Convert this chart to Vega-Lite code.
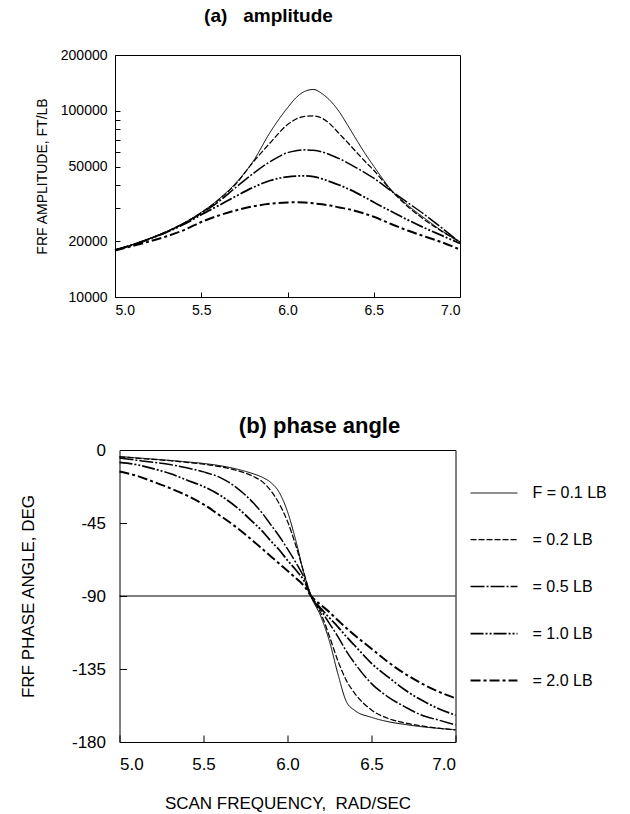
{
  "$schema": "https://vega.github.io/schema/vega-lite/v6.json",
  "padding": {"left": 18, "top": 6, "right": 5, "bottom": 5},
  "background": "white",
  "config": {
    "font": "Liberation Sans",
    "view": {"stroke": "#000", "strokeWidth": 1},
    "axis": {"domain": false, "grid": false, "tickColor": "#000", "tickSize": -5, "tickWidth": 1, "labelColor": "#000", "titleColor": "#000", "titleFontWeight": "normal", "labelFont": "Liberation Sans", "titleFont": "Liberation Sans"},
    "title": {"fontWeight": "bold", "color": "#000", "font": "Liberation Sans"},
    "legend": {"labelFont": "Liberation Sans", "labelColor": "#000"}
  },
  "spacing": 153,
  "bounds": "flush",
  "center": true,
  "datasets": {
    "amp": [
      {"x": 5.0, "F": "0.1", "amp": 17900}, {"x": 5.1, "F": "0.1", "amp": 19100}, {"x": 5.2, "F": "0.1", "amp": 20600}, {"x": 5.3, "F": "0.1", "amp": 22500}, {"x": 5.4, "F": "0.1", "amp": 25000}, {"x": 5.5, "F": "0.1", "amp": 28500}, {"x": 5.6, "F": "0.1", "amp": 33500}, {"x": 5.7, "F": "0.1", "amp": 41000}, {"x": 5.8, "F": "0.1", "amp": 53500}, {"x": 5.9, "F": "0.1", "amp": 77000}, {"x": 6.0, "F": "0.1", "amp": 104000}, {"x": 6.05, "F": "0.1", "amp": 118000}, {"x": 6.1, "F": "0.1", "amp": 127500}, {"x": 6.15, "F": "0.1", "amp": 130500}, {"x": 6.2, "F": "0.1", "amp": 124000}, {"x": 6.25, "F": "0.1", "amp": 113000}, {"x": 6.3, "F": "0.1", "amp": 99000}, {"x": 6.35, "F": "0.1", "amp": 83500}, {"x": 6.4, "F": "0.1", "amp": 70000}, {"x": 6.45, "F": "0.1", "amp": 59000}, {"x": 6.5, "F": "0.1", "amp": 50500}, {"x": 6.6, "F": "0.1", "amp": 37800}, {"x": 6.7, "F": "0.1", "amp": 31000}, {"x": 6.8, "F": "0.1", "amp": 26300}, {"x": 6.9, "F": "0.1", "amp": 22500}, {"x": 7.0, "F": "0.1", "amp": 19800},
      {"x": 5.0, "F": "0.2", "amp": 17900}, {"x": 5.1, "F": "0.2", "amp": 19100}, {"x": 5.2, "F": "0.2", "amp": 20600}, {"x": 5.3, "F": "0.2", "amp": 22500}, {"x": 5.4, "F": "0.2", "amp": 25000}, {"x": 5.5, "F": "0.2", "amp": 28400}, {"x": 5.6, "F": "0.2", "amp": 33200}, {"x": 5.7, "F": "0.2", "amp": 40500}, {"x": 5.8, "F": "0.2", "amp": 53000}, {"x": 5.9, "F": "0.2", "amp": 67500}, {"x": 6.0, "F": "0.2", "amp": 84500}, {"x": 6.05, "F": "0.2", "amp": 90500}, {"x": 6.1, "F": "0.2", "amp": 93500}, {"x": 6.15, "F": "0.2", "amp": 94000}, {"x": 6.2, "F": "0.2", "amp": 91500}, {"x": 6.25, "F": "0.2", "amp": 84500}, {"x": 6.3, "F": "0.2", "amp": 75500}, {"x": 6.35, "F": "0.2", "amp": 67500}, {"x": 6.4, "F": "0.2", "amp": 60000}, {"x": 6.45, "F": "0.2", "amp": 53500}, {"x": 6.5, "F": "0.2", "amp": 48000}, {"x": 6.6, "F": "0.2", "amp": 37500}, {"x": 6.7, "F": "0.2", "amp": 30500}, {"x": 6.8, "F": "0.2", "amp": 25800}, {"x": 6.9, "F": "0.2", "amp": 22400}, {"x": 7.0, "F": "0.2", "amp": 19800},
      {"x": 5.0, "F": "0.5", "amp": 17900}, {"x": 5.1, "F": "0.5", "amp": 19100}, {"x": 5.2, "F": "0.5", "amp": 20600}, {"x": 5.3, "F": "0.5", "amp": 22400}, {"x": 5.4, "F": "0.5", "amp": 24900}, {"x": 5.5, "F": "0.5", "amp": 28200}, {"x": 5.6, "F": "0.5", "amp": 32500}, {"x": 5.7, "F": "0.5", "amp": 38800}, {"x": 5.8, "F": "0.5", "amp": 46000}, {"x": 5.9, "F": "0.5", "amp": 53500}, {"x": 6.0, "F": "0.5", "amp": 59700}, {"x": 6.05, "F": "0.5", "amp": 61200}, {"x": 6.1, "F": "0.5", "amp": 61800}, {"x": 6.15, "F": "0.5", "amp": 61500}, {"x": 6.2, "F": "0.5", "amp": 60300}, {"x": 6.25, "F": "0.5", "amp": 58000}, {"x": 6.3, "F": "0.5", "amp": 55500}, {"x": 6.35, "F": "0.5", "amp": 52500}, {"x": 6.4, "F": "0.5", "amp": 49500}, {"x": 6.45, "F": "0.5", "amp": 46500}, {"x": 6.5, "F": "0.5", "amp": 43500}, {"x": 6.6, "F": "0.5", "amp": 37200}, {"x": 6.7, "F": "0.5", "amp": 32000}, {"x": 6.8, "F": "0.5", "amp": 27500}, {"x": 6.9, "F": "0.5", "amp": 23300}, {"x": 7.0, "F": "0.5", "amp": 19600},
      {"x": 5.0, "F": "1.0", "amp": 17900}, {"x": 5.1, "F": "1.0", "amp": 19000}, {"x": 5.2, "F": "1.0", "amp": 20500}, {"x": 5.3, "F": "1.0", "amp": 22300}, {"x": 5.4, "F": "1.0", "amp": 24600}, {"x": 5.5, "F": "1.0", "amp": 27700}, {"x": 5.6, "F": "1.0", "amp": 31000}, {"x": 5.7, "F": "1.0", "amp": 34800}, {"x": 5.8, "F": "1.0", "amp": 38800}, {"x": 5.9, "F": "1.0", "amp": 42300}, {"x": 6.0, "F": "1.0", "amp": 44300}, {"x": 6.05, "F": "1.0", "amp": 44700}, {"x": 6.1, "F": "1.0", "amp": 44800}, {"x": 6.15, "F": "1.0", "amp": 44400}, {"x": 6.2, "F": "1.0", "amp": 43200}, {"x": 6.25, "F": "1.0", "amp": 41600}, {"x": 6.3, "F": "1.0", "amp": 40000}, {"x": 6.35, "F": "1.0", "amp": 38200}, {"x": 6.4, "F": "1.0", "amp": 36300}, {"x": 6.45, "F": "1.0", "amp": 34300}, {"x": 6.5, "F": "1.0", "amp": 32300}, {"x": 6.6, "F": "1.0", "amp": 28900}, {"x": 6.7, "F": "1.0", "amp": 25900}, {"x": 6.8, "F": "1.0", "amp": 23400}, {"x": 6.9, "F": "1.0", "amp": 21300}, {"x": 7.0, "F": "1.0", "amp": 19400},
      {"x": 5.0, "F": "2.0", "amp": 17800}, {"x": 5.1, "F": "2.0", "amp": 18800}, {"x": 5.2, "F": "2.0", "amp": 19900}, {"x": 5.3, "F": "2.0", "amp": 21200}, {"x": 5.4, "F": "2.0", "amp": 22900}, {"x": 5.5, "F": "2.0", "amp": 25300}, {"x": 5.6, "F": "2.0", "amp": 27400}, {"x": 5.7, "F": "2.0", "amp": 29200}, {"x": 5.8, "F": "2.0", "amp": 30700}, {"x": 5.9, "F": "2.0", "amp": 31700}, {"x": 6.0, "F": "2.0", "amp": 32200}, {"x": 6.05, "F": "2.0", "amp": 32300}, {"x": 6.1, "F": "2.0", "amp": 32200}, {"x": 6.15, "F": "2.0", "amp": 31900}, {"x": 6.2, "F": "2.0", "amp": 31500}, {"x": 6.25, "F": "2.0", "amp": 31000}, {"x": 6.3, "F": "2.0", "amp": 30300}, {"x": 6.35, "F": "2.0", "amp": 29700}, {"x": 6.4, "F": "2.0", "amp": 28900}, {"x": 6.45, "F": "2.0", "amp": 28000}, {"x": 6.5, "F": "2.0", "amp": 27000}, {"x": 6.6, "F": "2.0", "amp": 24700}, {"x": 6.7, "F": "2.0", "amp": 22700}, {"x": 6.8, "F": "2.0", "amp": 21100}, {"x": 6.9, "F": "2.0", "amp": 19600}, {"x": 7.0, "F": "2.0", "amp": 18000}
    ],
    "phase": [
      {"x": 5.0, "F": "0.1", "phase": -4.0}, {"x": 5.1, "F": "0.1", "phase": -4.8}, {"x": 5.2, "F": "0.1", "phase": -5.6}, {"x": 5.3, "F": "0.1", "phase": -6.4}, {"x": 5.4, "F": "0.1", "phase": -7.3}, {"x": 5.5, "F": "0.1", "phase": -8.3}, {"x": 5.6, "F": "0.1", "phase": -9.7}, {"x": 5.7, "F": "0.1", "phase": -11.8}, {"x": 5.8, "F": "0.1", "phase": -14.8}, {"x": 5.85, "F": "0.1", "phase": -16.8}, {"x": 5.9, "F": "0.1", "phase": -20.0}, {"x": 5.95, "F": "0.1", "phase": -26.0}, {"x": 6.0, "F": "0.1", "phase": -38.0}, {"x": 6.05, "F": "0.1", "phase": -56.0}, {"x": 6.1, "F": "0.1", "phase": -77.0}, {"x": 6.14, "F": "0.1", "phase": -90.0}, {"x": 6.2, "F": "0.1", "phase": -103.0}, {"x": 6.25, "F": "0.1", "phase": -118.0}, {"x": 6.3, "F": "0.1", "phase": -138.0}, {"x": 6.35, "F": "0.1", "phase": -155.0}, {"x": 6.4, "F": "0.1", "phase": -160.5}, {"x": 6.5, "F": "0.1", "phase": -164.8}, {"x": 6.6, "F": "0.1", "phase": -167.5}, {"x": 6.7, "F": "0.1", "phase": -169.2}, {"x": 6.8, "F": "0.1", "phase": -170.6}, {"x": 6.9, "F": "0.1", "phase": -171.6}, {"x": 7.0, "F": "0.1", "phase": -172.4},
      {"x": 5.0, "F": "0.2", "phase": -4.2}, {"x": 5.1, "F": "0.2", "phase": -5.0}, {"x": 5.2, "F": "0.2", "phase": -5.8}, {"x": 5.3, "F": "0.2", "phase": -6.6}, {"x": 5.4, "F": "0.2", "phase": -7.6}, {"x": 5.5, "F": "0.2", "phase": -8.7}, {"x": 5.6, "F": "0.2", "phase": -10.3}, {"x": 5.7, "F": "0.2", "phase": -12.6}, {"x": 5.8, "F": "0.2", "phase": -16.5}, {"x": 5.85, "F": "0.2", "phase": -19.5}, {"x": 5.9, "F": "0.2", "phase": -25.0}, {"x": 5.95, "F": "0.2", "phase": -33.0}, {"x": 6.0, "F": "0.2", "phase": -44.0}, {"x": 6.05, "F": "0.2", "phase": -59.0}, {"x": 6.1, "F": "0.2", "phase": -76.5}, {"x": 6.14, "F": "0.2", "phase": -90.0}, {"x": 6.2, "F": "0.2", "phase": -101.0}, {"x": 6.25, "F": "0.2", "phase": -115.0}, {"x": 6.3, "F": "0.2", "phase": -130.0}, {"x": 6.35, "F": "0.2", "phase": -142.0}, {"x": 6.4, "F": "0.2", "phase": -150.0}, {"x": 6.5, "F": "0.2", "phase": -160.3}, {"x": 6.6, "F": "0.2", "phase": -165.5}, {"x": 6.7, "F": "0.2", "phase": -168.3}, {"x": 6.8, "F": "0.2", "phase": -170.1}, {"x": 6.9, "F": "0.2", "phase": -171.5}, {"x": 7.0, "F": "0.2", "phase": -172.6},
      {"x": 5.0, "F": "0.5", "phase": -5.0}, {"x": 5.1, "F": "0.5", "phase": -6.3}, {"x": 5.2, "F": "0.5", "phase": -7.6}, {"x": 5.3, "F": "0.5", "phase": -9.0}, {"x": 5.4, "F": "0.5", "phase": -11.0}, {"x": 5.5, "F": "0.5", "phase": -13.5}, {"x": 5.6, "F": "0.5", "phase": -17.0}, {"x": 5.7, "F": "0.5", "phase": -23.5}, {"x": 5.8, "F": "0.5", "phase": -33.0}, {"x": 5.85, "F": "0.5", "phase": -39.0}, {"x": 5.9, "F": "0.5", "phase": -46.0}, {"x": 5.95, "F": "0.5", "phase": -53.0}, {"x": 6.0, "F": "0.5", "phase": -61.0}, {"x": 6.05, "F": "0.5", "phase": -69.5}, {"x": 6.1, "F": "0.5", "phase": -79.0}, {"x": 6.14, "F": "0.5", "phase": -90.0}, {"x": 6.2, "F": "0.5", "phase": -99.0}, {"x": 6.25, "F": "0.5", "phase": -107.0}, {"x": 6.3, "F": "0.5", "phase": -115.0}, {"x": 6.35, "F": "0.5", "phase": -124.0}, {"x": 6.4, "F": "0.5", "phase": -131.5}, {"x": 6.5, "F": "0.5", "phase": -144.0}, {"x": 6.6, "F": "0.5", "phase": -152.3}, {"x": 6.7, "F": "0.5", "phase": -158.4}, {"x": 6.8, "F": "0.5", "phase": -163.5}, {"x": 6.9, "F": "0.5", "phase": -166.5}, {"x": 7.0, "F": "0.5", "phase": -169.5},
      {"x": 5.0, "F": "1.0", "phase": -7.6}, {"x": 5.1, "F": "1.0", "phase": -9.0}, {"x": 5.2, "F": "1.0", "phase": -11.5}, {"x": 5.3, "F": "1.0", "phase": -14.5}, {"x": 5.4, "F": "1.0", "phase": -18.5}, {"x": 5.5, "F": "1.0", "phase": -22.5}, {"x": 5.6, "F": "1.0", "phase": -28.0}, {"x": 5.7, "F": "1.0", "phase": -35.5}, {"x": 5.8, "F": "1.0", "phase": -45.0}, {"x": 5.85, "F": "1.0", "phase": -50.0}, {"x": 5.9, "F": "1.0", "phase": -56.0}, {"x": 5.95, "F": "1.0", "phase": -61.5}, {"x": 6.0, "F": "1.0", "phase": -68.0}, {"x": 6.05, "F": "1.0", "phase": -74.0}, {"x": 6.1, "F": "1.0", "phase": -81.0}, {"x": 6.14, "F": "1.0", "phase": -90.0}, {"x": 6.2, "F": "1.0", "phase": -97.8}, {"x": 6.25, "F": "1.0", "phase": -103.5}, {"x": 6.3, "F": "1.0", "phase": -109.0}, {"x": 6.35, "F": "1.0", "phase": -115.0}, {"x": 6.4, "F": "1.0", "phase": -120.5}, {"x": 6.5, "F": "1.0", "phase": -131.5}, {"x": 6.6, "F": "1.0", "phase": -140.0}, {"x": 6.7, "F": "1.0", "phase": -148.0}, {"x": 6.8, "F": "1.0", "phase": -154.3}, {"x": 6.9, "F": "1.0", "phase": -159.5}, {"x": 7.0, "F": "1.0", "phase": -163.4},
      {"x": 5.0, "F": "2.0", "phase": -13.2}, {"x": 5.1, "F": "2.0", "phase": -15.8}, {"x": 5.2, "F": "2.0", "phase": -19.5}, {"x": 5.3, "F": "2.0", "phase": -23.5}, {"x": 5.4, "F": "2.0", "phase": -28.0}, {"x": 5.5, "F": "2.0", "phase": -33.5}, {"x": 5.6, "F": "2.0", "phase": -40.5}, {"x": 5.7, "F": "2.0", "phase": -48.0}, {"x": 5.8, "F": "2.0", "phase": -56.5}, {"x": 5.85, "F": "2.0", "phase": -61.0}, {"x": 5.9, "F": "2.0", "phase": -65.5}, {"x": 5.95, "F": "2.0", "phase": -70.0}, {"x": 6.0, "F": "2.0", "phase": -74.5}, {"x": 6.05, "F": "2.0", "phase": -79.0}, {"x": 6.1, "F": "2.0", "phase": -84.0}, {"x": 6.14, "F": "2.0", "phase": -90.0}, {"x": 6.2, "F": "2.0", "phase": -95.6}, {"x": 6.25, "F": "2.0", "phase": -100.0}, {"x": 6.3, "F": "2.0", "phase": -105.0}, {"x": 6.35, "F": "2.0", "phase": -109.8}, {"x": 6.4, "F": "2.0", "phase": -114.2}, {"x": 6.5, "F": "2.0", "phase": -122.5}, {"x": 6.6, "F": "2.0", "phase": -130.8}, {"x": 6.7, "F": "2.0", "phase": -138.0}, {"x": 6.8, "F": "2.0", "phase": -144.0}, {"x": 6.9, "F": "2.0", "phase": -149.0}, {"x": 7.0, "F": "2.0", "phase": -153.0}
    ]
  },
  "resolve": {"scale": {"strokeDash": "independent", "strokeWidth": "independent"}, "legend": {"strokeDash": "independent", "strokeWidth": "independent"}},
  "vconcat": [
    {
      "width": 345,
      "height": 242,
      "title": {"text": "(a)\u00a0\u00a0 amplitude", "fontSize": 19, "offset": 22, "dx": -19, "frame": "group"},
      "data": {"name": "amp"},
      "mark": {"type": "line", "interpolate": "monotone", "color": "#000"},
      "encoding": {
        "x": {"field": "x", "type": "quantitative", "scale": {"domain": [5, 7], "nice": false, "zero": false},
              "axis": {"values": [5, 5.5, 6, 6.5, 7], "format": ".1f", "title": null, "labelFontSize": 14, "labelPadding": 11}},
        "y": {"field": "amp", "type": "quantitative", "scale": {"type": "log", "domain": [10000, 200000], "nice": false},
              "axis": {"values": [10000, 20000, 30000, 40000, 50000, 60000, 70000, 80000, 90000, 100000, 200000], "format": "d",
                       "labelExpr": "indexof([10000, 20000, 50000, 100000, 200000], datum.value) >= 0 ? datum.label : ''",
                       "title": "FRF AMPLITUDE, FT/LB", "labelFontSize": 14, "titleFontSize": 14, "labelPadding": 13, "titlePadding": 11}},
        "strokeDash": {"field": "F", "type": "nominal", "legend": null,
                       "scale": {"domain": ["0.1", "0.2", "0.5", "1.0", "2.0"], "range": [[1, 0], [6, 2], [14, 2, 2, 2], [13, 2, 2, 2, 2, 2], [10, 3, 3, 3]]}},
        "strokeWidth": {"field": "F", "type": "nominal", "legend": null,
                        "scale": {"domain": ["0.1", "0.2", "0.5", "1.0", "2.0"], "range": [1, 2, 2, 2, 2]}}
      }
    },
    {
      "width": 336,
      "height": 292,
      "title": {"text": "(b) phase angle", "fontSize": 22, "offset": 3, "dx": 32, "frame": "group"},
      "layer": [
        {
          "data": {"name": "phase"},
          "mark": {"type": "line", "interpolate": "monotone", "color": "#000"},
          "encoding": {
            "x": {"field": "x", "type": "quantitative", "scale": {"domain": [5, 7], "nice": false, "zero": false},
                  "axis": {"values": [5, 5.5, 6, 6.5, 7], "format": ".1f", "title": "SCAN FREQUENCY,\u00a0 RAD/SEC", "labelFontSize": 17, "titleFontSize": 17, "tickSize": -7, "labelPadding": 21, "titlePadding": 23}},
            "y": {"field": "phase", "type": "quantitative", "scale": {"domain": [-180, 0], "nice": false},
                  "axis": {"values": [0, -45, -90, -135, -180], "labelExpr": "toString(datum.value)", "title": "FRF PHASE ANGLE, DEG", "labelFontSize": 17, "titleFontSize": 17, "tickSize": -7, "labelPadding": 21, "titlePadding": 34}},
            "strokeDash": {"field": "F", "type": "nominal",
                           "scale": {"domain": ["0.1", "0.2", "0.5", "1.0", "2.0"], "range": [[1, 0], [6, 2], [14, 2, 2, 2], [13, 2, 2, 2, 2, 2], [10, 3, 3, 3]]},
                           "legend": {"orient": "none", "legendX": 350, "legendY": 19, "title": null, "symbolType": "stroke", "symbolSize": 2200, "symbolStrokeColor": "#000", "labelFontSize": 16, "labelOffset": 14, "rowPadding": 14,
                                      "labelExpr": "datum.value == '0.1' ? 'F = 0.1 LB' : '= ' + datum.value + ' LB'"}},
            "strokeWidth": {"field": "F", "type": "nominal",
                            "scale": {"domain": ["0.1", "0.2", "0.5", "1.0", "2.0"], "range": [1, 2, 2, 2, 2]},
                            "legend": {"orient": "none", "legendX": 350, "legendY": 19, "title": null, "symbolType": "stroke", "symbolSize": 2200, "symbolStrokeColor": "#000", "labelFontSize": 16, "labelOffset": 14, "rowPadding": 14,
                                       "labelExpr": "datum.value == '0.1' ? 'F = 0.1 LB' : '= ' + datum.value + ' LB'"}}
          }
        },
        {
          "data": {"values": [{}]},
          "mark": {"type": "rule", "color": "#000", "strokeWidth": 1},
          "encoding": {"y": {"datum": -90}}
        }
      ]
    }
  ]
}
